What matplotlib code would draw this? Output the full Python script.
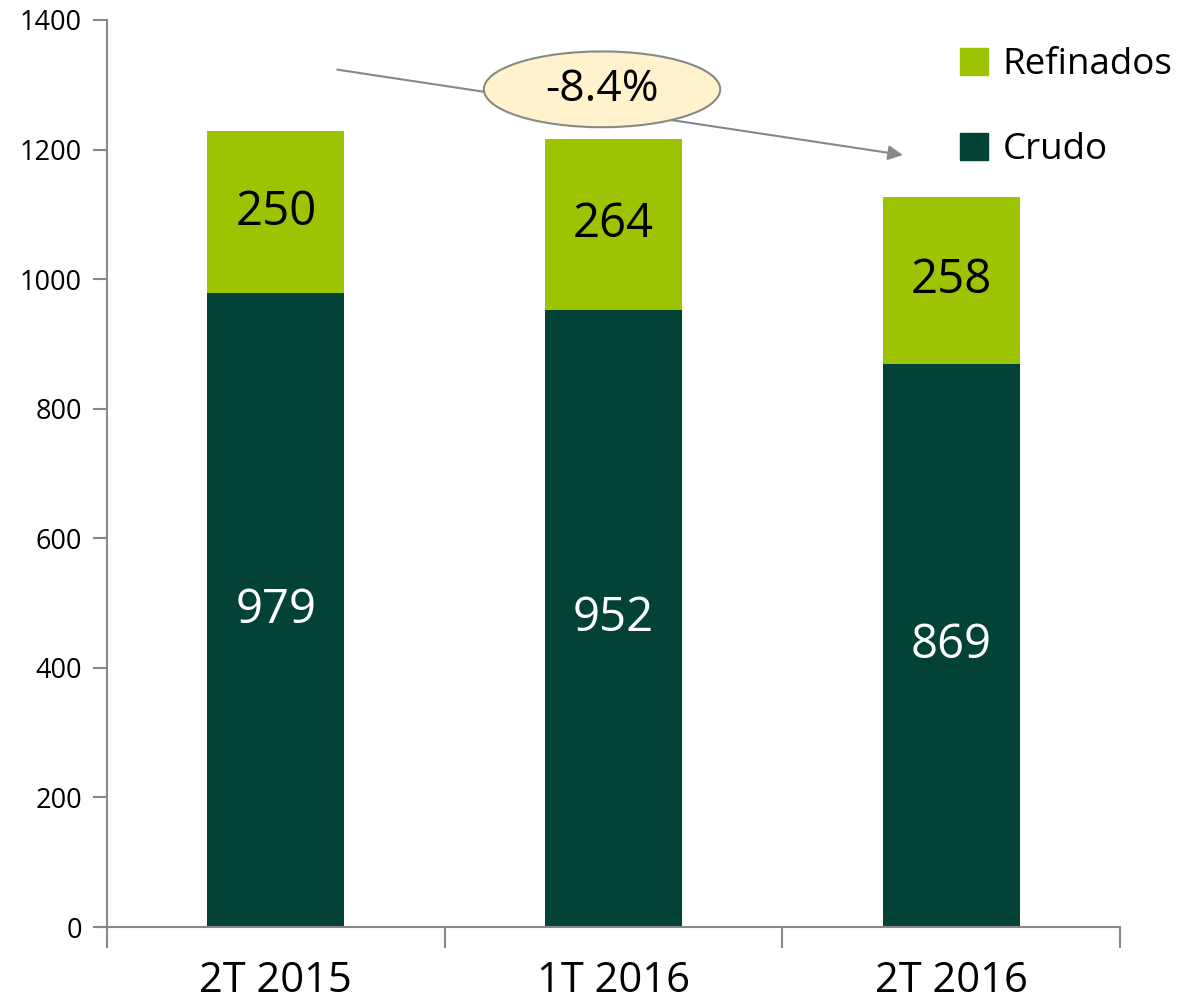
import matplotlib
matplotlib.use("Agg")
import matplotlib.pyplot as plt
from matplotlib.patches import Ellipse, Patch
import numpy as np

categories = ["2T 2015", "1T 2016", "2T 2016"]
crudo = [979, 952, 869]
refinados = [250, 264, 258]
change_label = "-8.4%"
yticks = [0, 200, 400, 600, 800, 1000, 1200, 1400]

plt.rcParams['font.family'] = ['Open Sans', 'DejaVu Sans']

c_crudo = "#034237"
c_ref = "#9DC402"
axis_c = "#888888"

fig = plt.figure(figsize=(11.98, 10.08), dpi=100)
ax = fig.add_axes([107/1198, 1-927/1008, (1120-107)/1198, (927-20)/1008])

x = np.arange(len(categories))
w = 0.405
ax.bar(x, crudo, w, color=c_crudo, label="Crudo", zorder=2)
ax.bar(x, refinados, w, bottom=crudo, color=c_ref, label="Refinados", zorder=2)

for i in range(len(categories)):
    ax.text(x[i], crudo[i]/2, str(crudo[i]), ha="center", va="center",
            color="white", fontsize=34)
    ax.text(x[i], crudo[i] + refinados[i]/2, str(refinados[i]), ha="center", va="center",
            color="black", fontsize=34)

ax.set_xlim(-0.5, 2.5)
ax.set_ylim(0, 1400)
ax.set_yticks(yticks)
ax.tick_params(axis="y", labelsize=19.5, color=axis_c, length=10, width=1.5, pad=8)
ax.set_xticks([-0.5, 0.5, 1.5, 2.5])
ax.set_xticklabels([])
ax.set_xticks(x, minor=True)
ax.set_xticklabels(categories, minor=True, fontsize=30)
ax.tick_params(axis="x", which="major", color=axis_c, length=15, width=1.5, direction="out")
ax.tick_params(axis="x", which="minor", length=0, pad=24)
for s in ["top", "right"]:
    ax.spines[s].set_visible(False)
for s in ["left", "bottom"]:
    ax.spines[s].set_color(axis_c)
    ax.spines[s].set_linewidth(1.5)
ax.spines["bottom"].set_bounds(-0.53, 2.5)

# arrow
ax.annotate("", xy=(1.865, 1191), xytext=(0.174, 1324),
            arrowprops=dict(arrowstyle="-|>", color=axis_c, lw=1.5, mutation_scale=22),
            zorder=3)
ell = Ellipse((0.966, 1293), 0.70, 117, facecolor="#FFF2CC", edgecolor=axis_c, lw=1.5, zorder=4)
ax.add_patch(ell)
ax.text(0.966, 1293, change_label, ha="center", va="center", fontsize=32, zorder=5)

handles = [Patch(color=c_ref), Patch(color=c_crudo)]
leg = ax.legend(handles, ["Refinados", "Crudo"], loc="upper left",
                bbox_to_anchor=((960-107)/1013, (927-47)/907), frameon=False, fontsize=26.5,
                handlelength=0.75, handleheight=0.75, handletextpad=0.4, labelspacing=1.33,
                borderaxespad=0, borderpad=0)

fig.savefig("out.png", dpi=100)
